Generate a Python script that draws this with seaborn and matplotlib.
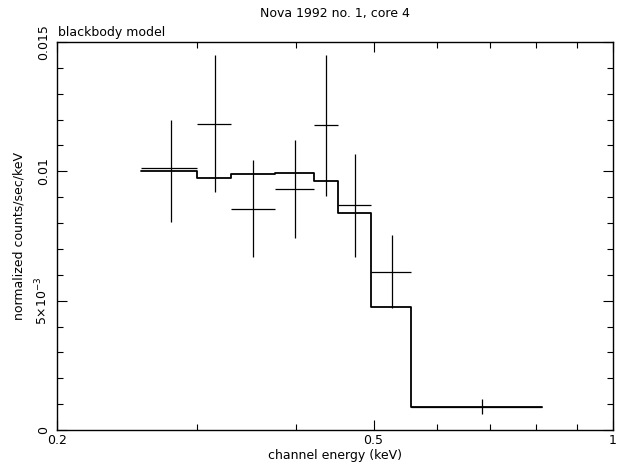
import numpy as np
import matplotlib
matplotlib.use('Agg')
import matplotlib.pyplot as plt
import seaborn as sns
from matplotlib.ticker import FixedLocator, NullFormatter

# channel bins (keV)
bin_lo = [0.255, 0.300, 0.331, 0.376, 0.421, 0.451, 0.496, 0.557]
bin_hi = [0.300, 0.331, 0.376, 0.421, 0.451, 0.496, 0.557, 0.814]
energy = [0.278, 0.316, 0.353, 0.398, 0.436, 0.474, 0.527, 0.685]

# data (normalized counts/sec/keV) with error bar limits
rate = [0.01013, 0.01183, 0.00856, 0.00930, 0.01178, 0.00869, 0.00612, 0.00089]
rate_hi = [0.01198, 0.01450, 0.01045, 0.01121, 0.01450, 0.01066, 0.00754, 0.00120]
rate_lo = [0.00804, 0.00919, 0.00668, 0.00741, 0.00903, 0.00670, 0.00470, 0.00061]

# blackbody model per bin
model = [0.01000, 0.00973, 0.00990, 0.00994, 0.00963, 0.00840, 0.00477, 0.00089]

sns.set_style('ticks')
plt.rcParams['font.family'] = ['DejaVu Sans']
plt.rcParams['text.color'] = 'black'
plt.rcParams['axes.labelcolor'] = 'black'
plt.rcParams['xtick.labelcolor'] = 'black'
plt.rcParams['ytick.labelcolor'] = 'black'

fig = plt.figure(figsize=(6.17, 4.63), dpi=100)
ax = fig.add_axes([0.0924, 0.0713, 0.9011, 0.838])

xerr_lo = np.array(energy) - np.array(bin_lo)
xerr_hi = np.array(bin_hi) - np.array(energy)
yerr_lo = np.array(rate) - np.array(rate_lo)
yerr_hi = np.array(rate_hi) - np.array(rate)
ax.errorbar(energy, rate, xerr=[xerr_lo, xerr_hi], yerr=[yerr_lo, yerr_hi],
            fmt='none', ecolor='black', elinewidth=0.9, capsize=0)

step_x = bin_lo + [bin_hi[-1]]
step_y = model + [model[-1]]
sns.lineplot(x=step_x, y=step_y, drawstyle='steps-post', color='black',
             linewidth=1.3, ax=ax, sort=False, estimator=None)

ax.set_xscale('log')
ax.set_xlim(0.2, 1.0)
ax.set_ylim(0, 0.015)

ax.xaxis.set_major_locator(FixedLocator([0.2, 0.5, 1.0]))
ax.xaxis.set_minor_locator(FixedLocator([0.3, 0.4, 0.6, 0.7, 0.8, 0.9]))
ax.set_xticklabels(['0.2', '0.5', '1'])
ax.xaxis.set_minor_formatter(NullFormatter())

ax.yaxis.set_major_locator(FixedLocator([0, 0.005, 0.01, 0.015]))
ax.yaxis.set_minor_locator(FixedLocator(np.arange(0.001, 0.015, 0.001)))
ax.set_yticklabels(['0', r'5$\times$10$^{-3}$', '0.01', '0.015'],
                   rotation=90, va='center')

ax.tick_params(which='both', direction='in', top=True, right=True,
               labelsize=9, color='black', width=0.8)
ax.tick_params(which='major', length=7)
ax.tick_params(axis='x', which='major', pad=3)
ax.tick_params(axis='y', which='major', pad=5)
ax.tick_params(which='minor', length=4)
for s in ax.spines.values():
    s.set_linewidth(1.0)
    s.set_color('black')

ax.set_xlabel('channel energy (keV)', fontsize=9, labelpad=1)
ax.set_ylabel('normalized counts/sec/keV', fontsize=9, labelpad=6)
ax.set_title('Nova 1992 no. 1, core 4', fontsize=9, pad=18)
ax.text(0.002, 1.008, 'blackbody model', transform=ax.transAxes,
        fontsize=9, ha='left', va='bottom')

fig.savefig('out.png', dpi=100)
